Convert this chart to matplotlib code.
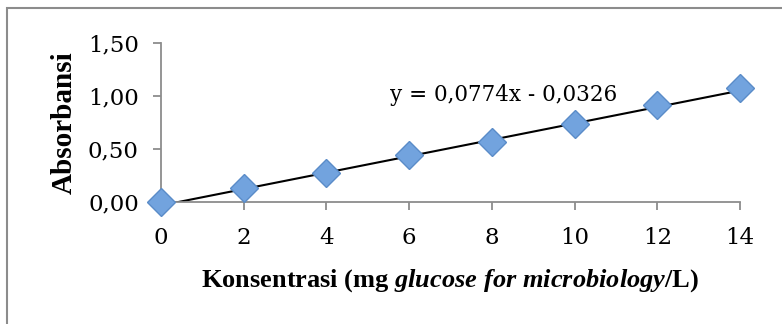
import numpy as np
import matplotlib
matplotlib.use("Agg")
import matplotlib.pyplot as plt
from matplotlib.patches import Rectangle

# data
konsentrasi = [0, 2, 4, 6, 8, 10, 12, 14]
absorbansi = [0.00, 0.13, 0.27, 0.44, 0.57, 0.74, 0.915, 1.075]
slope = 0.0774
intercept = -0.0326
y_ticks = [0.0, 0.5, 1.0, 1.5]
x_ticks = [0, 2, 4, 6, 8, 10, 12, 14]

plt.rcParams["mathtext.fontset"] = "custom"
plt.rcParams["mathtext.rm"] = "Liberation Serif:bold"
plt.rcParams["mathtext.it"] = "Liberation Serif:italic:bold"
plt.rcParams["mathtext.bf"] = "Liberation Serif:bold"

W, H = 782, 324
fig = plt.figure(figsize=(W / 100, H / 100), dpi=100)

# outer chart border (runs off right and bottom edge)
fig.patches.append(Rectangle((7 / W, -0.1), 1.2, 1 - 8 / H + 0.1, transform=fig.transFigure,
                             fill=False, edgecolor="#8c8c8c", linewidth=1.5))

ax = fig.add_axes([161 / W, 1 - 202 / H, (740 - 161) / W, (202 - 43) / H])

# trendline
xs = np.array([0, 14])
ax.plot(xs, slope * xs + intercept, color="black", linewidth=1.5, zorder=2)
ax.plot(konsentrasi, absorbansi, linestyle="none", marker="D", markersize=14,
        markerfacecolor="#72a3de", markeredgecolor="#5a8cc8", markeredgewidth=1.0,
        zorder=3, clip_on=False)

ax.set_xlim(0, 14)
ax.set_ylim(0, 1.5)
ax.set_xticks(x_ticks)
ax.set_yticks(y_ticks)
ax.set_yticklabels([f"{v:.2f}".replace(".", ",") for v in y_ticks])

for s in ["top", "right"]:
    ax.spines[s].set_visible(False)
for s in ["left", "bottom"]:
    ax.spines[s].set_color("#8c8c8c")
    ax.spines[s].set_linewidth(1.3)
ax.tick_params(direction="out", length=6, width=1.3, color="#8c8c8c", labelsize=16.5)
ax.tick_params(axis="x", pad=12)
ax.tick_params(axis="y", pad=10)
for lab in ax.get_xticklabels() + ax.get_yticklabels():
    lab.set_fontfamily("DejaVu Serif")

ax.set_ylabel("Absorbansi", fontsize=21, fontweight="bold", family="Liberation Serif", labelpad=7)
ax.set_xlabel(r"Konsentrasi (mg $\mathit{glucose\ for\ microbiology}$/L)",
              fontsize=19, fontweight="bold", family="Liberation Serif", labelpad=13)

ax.text(0.395, 0.673, "y = 0,0774x - 0,0326", transform=ax.transAxes,
        fontsize=15.5, family="DejaVu Serif", ha="left", va="center")

fig.savefig("out.png", dpi=100)
